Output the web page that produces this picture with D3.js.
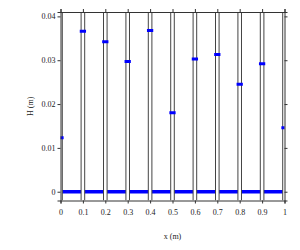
<!DOCTYPE html>
<html>
<head>
<meta charset="utf-8">
<script src="https://cdn.jsdelivr.net/npm/d3@7"></script>
<style>
  body { margin: 0; background: #fff; }
  text { font-family: "Liberation Serif", "Times New Roman", serif; font-size: 8px; fill: #222; }
</style>
</head>
<body>
<svg id="chart" width="300" height="250"></svg>
<script>
// face positions and water depth
const faceX = [0, 0.1, 0.2, 0.3, 0.4, 0.5, 0.6, 0.7, 0.8, 0.9, 1];
const faceH = [0.0123, 0.0366, 0.0342, 0.0297, 0.0368, 0.0180, 0.0303, 0.0313, 0.0245, 0.0292, 0.0146];
// cell values (all zero in the plot)
const cellLeft = [0, 0.1, 0.2, 0.3, 0.4, 0.5, 0.6, 0.7, 0.8, 0.9];
const cellH = [0, 0, 0, 0, 0, 0, 0, 0, 0, 0];

const xTicks = [0, 0.1, 0.2, 0.3, 0.4, 0.5, 0.6, 0.7, 0.8, 0.9, 1];
const yTicks = [0, 0.01, 0.02, 0.03, 0.04];

const gap = 0.008;   // half gap between cells
const cellW = 0.1;

const svg = d3.select("#chart");
const margin = { left: 60.5, right: 15.5, top: 12, bottom: 49.5 };
const W = 300, H = 250;

const x = d3.scaleLinear().domain([0, 1]).range([margin.left, W - margin.right]);
const y = d3.scaleLinear().domain([-0.002, 0.041]).range([H - margin.bottom, margin.top]);

svg.append("defs").append("clipPath").attr("id", "plotClip")
  .append("rect")
  .attr("x", x(0)).attr("y", y(0.041))
  .attr("width", x(1) - x(0)).attr("height", y(-0.002) - y(0.041));

const plot = svg.append("g").attr("clip-path", "url(#plotClip)");

// H in cells
plot.selectAll("line.cell")
  .data(cellLeft)
  .enter()
  .append("line")
  .attr("class", "cell")
  .attr("x1", (d) => x(d + gap)).attr("x2", d => x(d + cellW - gap))
  .attr("y1", (d, i) => y(cellH[i])).attr("y2", (d, i) => y(cellH[i]))
  .attr("stroke", "#0000ff")
  .attr("stroke-width", 3.5);

// cell walls: each face has a line on either side
const walls = [];
faceX.forEach(f => { walls.push(f - gap); walls.push(f + gap); });

plot.selectAll("line.wall")
  .data(walls)
  .enter()
  .append("line")
  .attr("class", "wall")
  .attr("x1", d => x(d)).attr("x2", d => x(d))
  .attr("y1", y(-0.002)).attr("y2", y(0.041))
  .attr("stroke", "#444")
  .attr("stroke-width", 1);

// H at faces
plot.selectAll("line.face")
  .data(faceX)
  .enter()
  .append("line")
  .attr("class", "face")
  .attr("x1", d => x(d - 0.014)).attr("x2", d => x(d + 0.014))
  .attr("y1", (d, i) => y(faceH[i])).attr("y2", (d, i) => y(faceH[i]))
  .attr("stroke", "#0000ff")
  .attr("stroke-width", 3);

// axes, ticks pointing out
const axisColor = "#333";
const gB = svg.append("g").attr("transform", `translate(0,${y(-0.002)})`)
  .call(d3.axisBottom(x).tickValues(xTicks).tickFormat(d3.format("~g")).tickSize(3).tickPadding(6));
const gT = svg.append("g").attr("transform", `translate(0,${y(0.041)})`)
  .call(d3.axisTop(x).tickValues(xTicks).tickFormat("").tickSize(3));
const gL = svg.append("g").attr("transform", `translate(${x(0)},0)`)
  .call(d3.axisLeft(y).tickValues(yTicks).tickFormat(d3.format("~g")).tickSize(3).tickPadding(2));
const gR = svg.append("g").attr("transform", `translate(${x(1)},0)`)
  .call(d3.axisRight(y).tickValues(yTicks).tickFormat("").tickSize(3));

[gB, gT, gL, gR].forEach(g => {
  g.select(".domain").attr("stroke", axisColor);
  g.selectAll(".tick line").attr("stroke", axisColor);
  g.selectAll("text").style("font-family", '"Liberation Serif", serif').style("font-size", "8px").attr("fill", "#222");
});

svg.append("text")
  .attr("x", (x(0) + x(1)) / 2)
  .attr("y", 239)
  .attr("text-anchor", "middle")
  .text("x (m)");

svg.append("text")
  .attr("transform", `translate(33,${(y(-0.002) + y(0.041)) / 2}) rotate(-90)`)
  .attr("text-anchor", "middle")
  .text("H (m)");
</script>
</body>
</html>
